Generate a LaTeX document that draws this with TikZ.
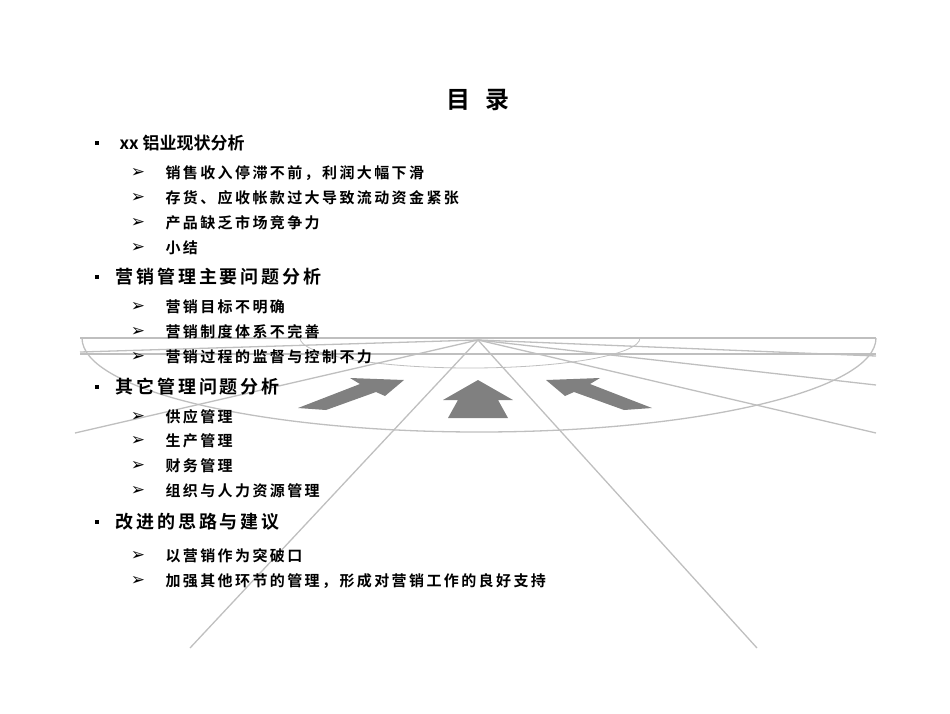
\documentclass[tikz,border=0pt]{standalone}
\usepackage{fontspec}
\newfontfamily\cjk{Noto Sans CJK SC Bold}
\newfontfamily\cjks[LetterSpace=16]{Noto Sans CJK SC Bold}
\newfontfamily\dv{DejaVu Sans}
\begin{document}
\begin{tikzpicture}[x=1pt,y=-1pt,
  bg/.style={draw=black!25,line width=1.3pt},
  arr/.style={fill=black!50,draw=none},
  lone/.style={anchor=west,font=\cjks\fontsize{18}{18}\selectfont},
  ltwo/.style={anchor=west,font=\cjks\fontsize{15}{15}\selectfont},
  blt/.style={fill=black,minimum size=4.5pt,inner sep=0pt},
  tip/.style={anchor=center,font=\dv\bfseries\fontsize{17}{17}\selectfont}]
\useasboundingbox (0,0) rectangle (950,713);
% background
\coordinate (apex) at (478,340);
\draw[bg] (80,338) -- (876,338);
\draw[bg] (80,354) -- (876,354);
\draw[bg] (82,338) arc[start angle=180,end angle=0,x radius=397,y radius=94];
\draw[bg,line width=0.8pt] (300,338) arc[start angle=180,end angle=0,x radius=170,y radius=30];
\draw[bg] (apex) -- (190,648);
\draw[bg] (apex) -- (757,648);
\draw[bg] (apex) -- (75,433);
\draw[bg] (apex) -- (876,433);
\draw[bg] (apex) -- (876,385);
\draw[bg] (apex) -- (80,352);
\draw[bg] (apex) -- (876,356);
\draw[arr] (298,408) -- (360,384) -- (350,378) -- (404,380) -- (385,396) -- (376,392) -- (326,410) -- cycle;
\draw[arr] (448,418) -- (458,400) -- (443,400) -- (478,380) -- (513,400) -- (498,400) -- (508,418) -- cycle;
\draw[arr] (652,408) -- (590,384) -- (600,378) -- (546,380) -- (565,396) -- (574,392) -- (624,410) -- cycle;
% title
\node (title) at (478,100) {\cjk\fontsize{24}{24}\selectfont 目\hspace{0.6em}录};
% level 1
\node[blt] (b1) at (97,143) {};
\node[anchor=west,font=\cjk\fontsize{17}{17}\selectfont] (t1) at (116,143) {xx 铝业现状分析};
\node[blt] (b2) at (97,277) {};
\node[lone] (t2) at (112,277) {营销管理主要问题分析};
\node[blt] (b3) at (97,387) {};
\node[lone] (t3) at (112,387) {其它管理问题分析};
\node[blt] (b4) at (97,522) {};
\node[lone] (t4) at (112,522) {改进的思路与建议};
% level 2
\foreach \y/\t in {173/销售收入停滞不前，利润大幅下滑,198/存货、应收帐款过大导致流动资金紧张,223/产品缺乏市场竞争力,248/小结,307/营销目标不明确,332/营销制度体系不完善,357/营销过程的监督与控制不力,417/供应管理,441/生产管理,466/财务管理,491/组织与人力资源管理,556/以营销作为突破口,581/加强其他环节的管理，形成对营销工作的良好支持}{
  \node[tip] (a\y) at (138,\y) {➢};
  \node[ltwo] (s\y) at (162,\y) {\t};
}
\end{tikzpicture}
\end{document}
